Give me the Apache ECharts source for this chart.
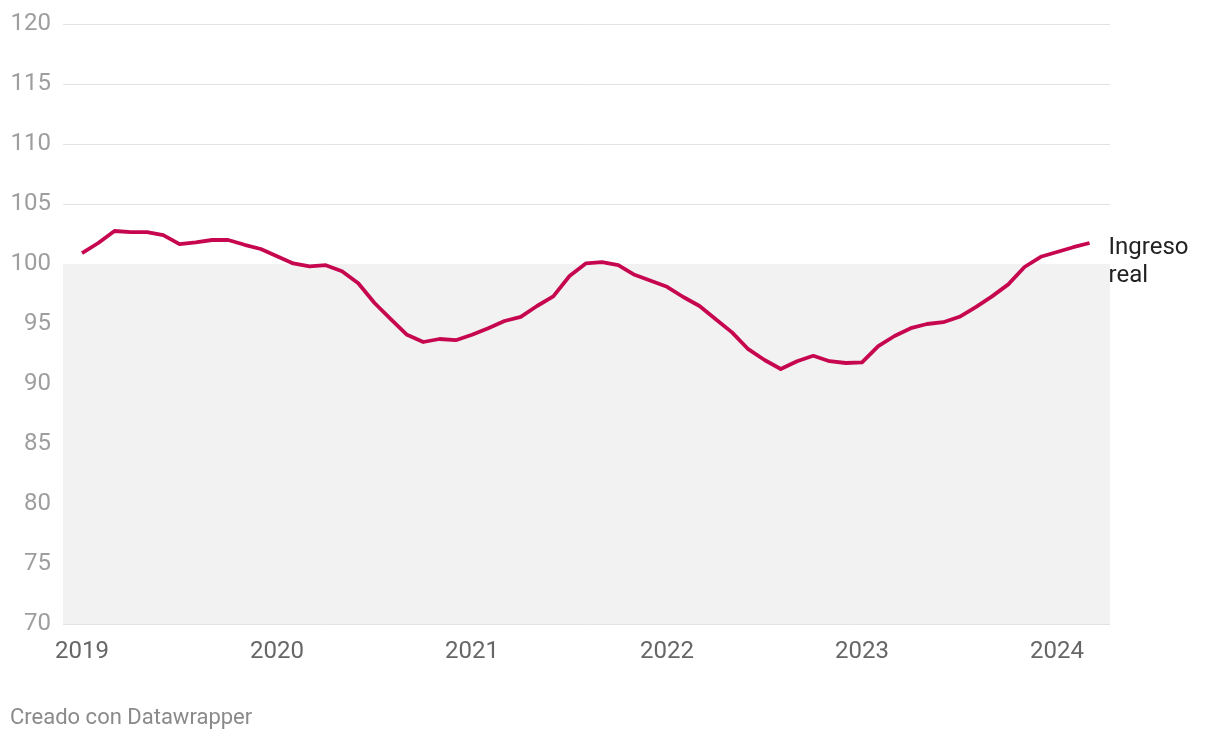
<!DOCTYPE html>
<html>
<head>
<meta charset="utf-8">
<script src="https://cdn.jsdelivr.net/npm/echarts@6/dist/echarts.min.js"></script>
<style>
html,body{margin:0;padding:0;background:#fff;}
#c{width:1220px;height:740px;}
</style>
</head>
<body>
<div id="c"></div>
<script>
// Monthly index, Jan 2019 .. Mar 2024
const startYear = 2019;
const ingresoReal = [
  100.9, 101.75, 102.75, 102.65, 102.65, 102.4, 101.65, 101.8, 102.0, 102.0, 101.6, 101.25,
  100.65, 100.05, 99.8, 99.9, 99.4, 98.4, 96.75, 95.4, 94.1, 93.5, 93.75, 93.65,
  94.1, 94.65, 95.25, 95.6, 96.5, 97.3, 99.0, 100.05, 100.15, 99.9, 99.1, 98.6,
  98.1, 97.25, 96.5, 95.4, 94.3, 92.9, 92.0, 91.25, 91.9, 92.35, 91.9, 91.75,
  91.8, 93.15, 94.0, 94.65, 95.0, 95.15, 95.6, 96.4, 97.3, 98.3, 99.75, 100.6,
  101.0, 101.4, 101.75
];
const yearTicks = [0, 12, 24, 36, 48, 60];
const seriesName = 'Ingreso\nreal';
const footer = 'Creado con Datawrapper';

const data = ingresoReal.map((v, i) => [i, v]);

const chart = echarts.init(document.getElementById('c'));
chart.setOption({
  animation: false,
  backgroundColor: '#ffffff',
  textStyle: { fontFamily: 'Roboto' },
  grid: { left: 63, right: 110, top: 24, bottom: 116, containLabel: false },
  graphic: [{
    type: 'text', left: 10, top: 707,
    style: { text: footer, fill: '#8a8a8a', font: '22px Roboto' }
  }],
  xAxis: {
    type: 'value',
    min: -1.17,
    max: 63.26,
    axisLine: { show: false },
    axisTick: { show: false },
    splitLine: { show: false },
    axisLabel: {
      customValues: yearTicks,
      formatter: v => String(startYear + Math.round(v / 12)),
      color: '#666666',
      fontSize: 24,
      margin: 16,
      fontFamily: 'Roboto'
    }
  },
  yAxis: {
    type: 'value',
    min: 70,
    max: 120,
    interval: 5,
    axisLine: { show: false },
    axisTick: { show: false },
    splitLine: { show: true, lineStyle: { color: '#e3e3e3', width: 1 } },
    axisLabel: { color: '#9e9e9e', fontSize: 24, margin: 12, fontFamily: 'Roboto' }
  },
  series: [{
    type: 'line',
    name: seriesName,
    data: data,
    showSymbol: false,
    symbol: 'none',
    lineStyle: { color: '#c6074f', width: 3.8, join: 'round' },
    itemStyle: { color: '#c6074f' },
    z: 5,
    endLabel: {
      show: true,
      formatter: '{a}',
      color: '#222222',
      fontSize: 24,
      lineHeight: 28,
      distance: 19,
      offset: [0, 19],
      fontFamily: 'Roboto'
    },
    markArea: {
      silent: true,
      itemStyle: { color: '#f2f2f2' },
      data: [[{ yAxis: 70, xAxis: -1.17 }, { yAxis: 100, xAxis: 63.26 }]],
      z: 0
    }
  }]
});
</script>
</body>
</html>
